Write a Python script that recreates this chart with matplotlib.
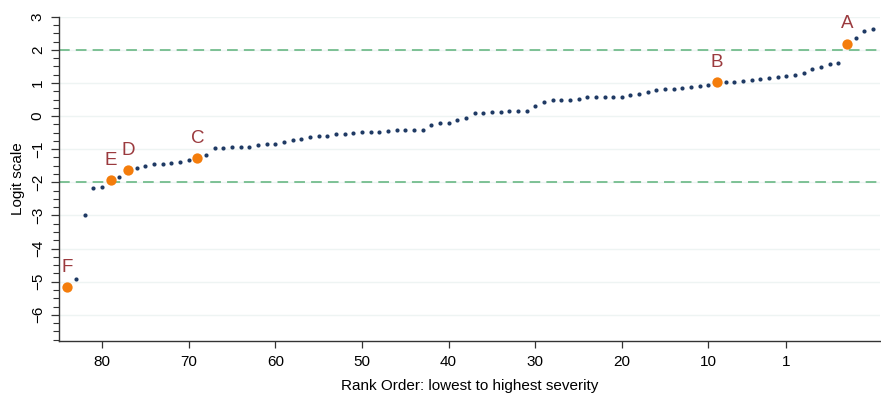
import matplotlib.pyplot as plt
import numpy as np
from matplotlib.ticker import MultipleLocator

plt.rcParams["font.family"] = ["Liberation Sans", "DejaVu Sans"]

# rank positions (left = lowest severity), one per item
ranks = list(range(84, -10, -1))

logits = [-5.17, -4.93, -3.00, -2.18, -2.13, -1.92, -1.85, -1.63, -1.58, -1.52,
          -1.46, -1.44, -1.42, -1.39, -1.34, -1.28, -1.18, -0.96, -0.96, -0.94,
          -0.94, -0.93, -0.86, -0.85, -0.83, -0.78, -0.71, -0.70, -0.64, -0.61,
          -0.61, -0.55, -0.55, -0.52, -0.49, -0.49, -0.48, -0.45, -0.43, -0.42,
          -0.41, -0.41, -0.27, -0.21, -0.21, -0.12, -0.05, 0.09, 0.10, 0.13,
          0.13, 0.15, 0.16, 0.16, 0.30, 0.41, 0.50, 0.50, 0.50, 0.53,
          0.58, 0.59, 0.59, 0.59, 0.59, 0.65, 0.68, 0.72, 0.79, 0.81,
          0.82, 0.85, 0.89, 0.92, 0.94, 1.03, 1.03, 1.04, 1.05, 1.09,
          1.13, 1.15, 1.17, 1.21, 1.25, 1.29, 1.41, 1.48, 1.58, 1.59,
          2.19, 2.37, 2.57, 2.64]

# highlighted items and their rank position
hl_labels = ["A", "B", "C", "D", "E", "F"]
hl_ranks = [-6, 9, 69, 77, 79, 84]

xtick_vals = [80, 70, 60, 50, 40, 30, 20, 10, 1]
cutoffs = [2, -2]

lookup = dict(zip(ranks, logits))
hl_vals = [lookup[r] for r in hl_ranks]

fig = plt.figure(figsize=(8.81, 3.99), dpi=100)
ax = fig.add_axes([58.7 / 881, 1 - 341.3 / 399, (880 - 58.7) / 881, (341.3 - 16.7) / 399])

for y in range(-6, 4):
    ax.axhline(y, color="#eef4f3", lw=1, zorder=0)
for c in cutoffs:
    ax.axhline(c, color="#5db27a", lw=1.1, dashes=(7, 4), zorder=1)

other = [(r, v) for r, v in zip(ranks, logits) if r not in hl_ranks]
ax.scatter([p[0] for p in other], [p[1] for p in other], s=9, color="#1f3a64",
           linewidths=0, zorder=3)
ax.scatter(hl_ranks, hl_vals, s=55, color="#f47d0c", linewidths=0, zorder=4)

for lab, r, v in zip(hl_labels, hl_ranks, hl_vals):
    ax.annotate(lab, (r, v), xytext=(0, 8), textcoords="offset points",
                ha="center", va="bottom", color="#9b3a3e", fontsize=13.5)

ax.set_xlim(85, -9.8)
ax.set_ylim(-6.8, 3.0)
ax.set_xticks(xtick_vals)
ax.yaxis.set_major_locator(MultipleLocator(1))
ax.yaxis.set_minor_locator(MultipleLocator(0.25))

for s in ["top", "right"]:
    ax.spines[s].set_visible(False)
for s in ["left", "bottom"]:
    ax.spines[s].set_color("#333333")
    ax.spines[s].set_linewidth(1.0)

ax.tick_params(axis="x", length=5, width=0.9, labelsize=11, color="#333333", pad=5)
ax.tick_params(axis="y", which="major", length=6, width=0.9, labelsize=11,
               color="#333333", labelrotation=90, pad=4)
ax.tick_params(axis="y", which="minor", length=4, width=0.8, color="#333333")
for t in ax.get_yticklabels():
    t.set_va("center")

ax.set_xlabel("Rank Order: lowest to highest severity", fontsize=11, labelpad=7)
ax.set_ylabel("Logit scale", fontsize=11, labelpad=4)

fig.savefig("out.png", dpi=100)
